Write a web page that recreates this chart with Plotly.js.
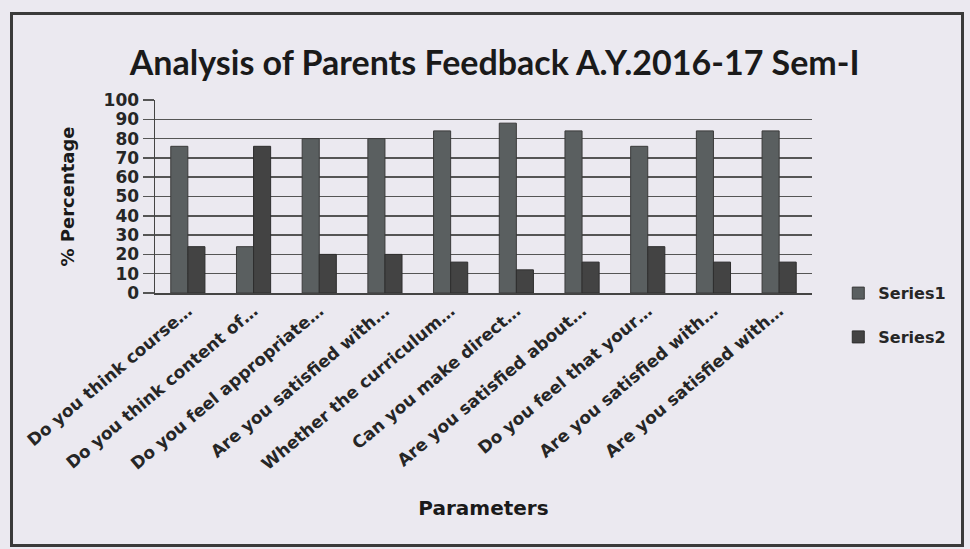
<!DOCTYPE html>
<html>
<head>
<meta charset="utf-8">
<script src="https://cdn.plot.ly/plotly-3.0.1.min.js"></script>
<style>
html,body{margin:0;padding:0;background:#ebe9f0;}
#wrap{position:relative;width:970px;height:549px;}
#chart{width:970px;height:549px;}
#frame{position:absolute;left:10px;top:12px;width:948px;height:529px;border:3px solid #3a3a3a;pointer-events:none;}
</style>
</head>
<body>
<div id="wrap"><div id="chart"></div><div id="frame"></div></div>
<script>
const categories = [
  "Do you think course…",
  "Do you think content of…",
  "Do you feel appropriate…",
  "Are you satisfied with…",
  "Whether the curriculum…",
  "Can you make direct…",
  "Are you satisfied about…",
  "Do you feel that your…",
  "Are you satisfied with…",
  "Are you satisfied with…"
];
const series1 = [76, 24, 80, 80, 84, 88, 84, 76, 84, 84];
const series2 = [24, 76, 20, 20, 16, 12, 16, 24, 16, 16];
const yTicks = [0,10,20,30,40,50,60,70,80,90,100];

const positions = categories.map((_, i) => i);
const titleFont = "Lato, Open Sans, sans-serif";
const font = "DejaVu Sans, Open Sans, sans-serif";

const traces = [
  {type:'bar', name:'Series1', x:positions, y:series1, marker:{color:'#5a5f60', line:{color:'#3a3a3a', width:1}}, legendgroup:'a'},
  {type:'bar', name:'Series2', x:positions, y:series2, marker:{color:'#434343', line:{color:'#2e2e2e', width:1}}, legendgroup:'b'}
];

const layout = {
  width:970, height:549,
  paper_bgcolor:'#ebe9f0', plot_bgcolor:'#ebe9f0',
  margin:{l:155, r:158, t:100, b:256},
  title:{text:'<b>Analysis of Parents Feedback A.Y.2016-17 Sem-I</b>', x:0.51, xanchor:'center', y:0.885, yanchor:'middle', font:{family:titleFont, size:34, color:'#1a1a1a'}},
  barmode:'group', bargap:0.48, bargroupgap:0,
  xaxis:{
    tickmode:'array', tickvals:positions, ticktext:categories, tickangle:-40,
    tickfont:{family:font, size:17, color:'#262626', weight:'bold'},
    showgrid:false, showline:true, linecolor:'#444', linewidth:1.5,
    range:[-0.5, categories.length-0.5], automargin:false,
    title:{text:'<b>Parameters</b>', font:{family:font, size:20, color:'#1a1a1a'}, standoff:28}
  },
  yaxis:{
    range:[0,100], tickmode:'array', tickvals:yTicks,
    tickfont:{family:font, size:17, color:'#262626', weight:'bold'},
    showgrid:true, gridcolor:'#555', gridwidth:1.5,
    showline:true, linecolor:'#444', linewidth:1.5,
    ticks:'outside', ticklen:11, tickcolor:'#555', tickwidth:1.5,
    automargin:false,
    title:{text:'<b>% Percentage</b>', font:{family:font, size:18, color:'#1a1a1a'}, standoff:24}
  },
  legend:{x:1.04, xanchor:'left', y:-0.115, yanchor:'middle', tracegroupgap:20, font:{family:font, size:16, color:'#262626', weight:'bold'}, bgcolor:'rgba(0,0,0,0)'},
  showlegend:true
};

Plotly.newPlot('chart', traces, layout, {displayModeBar:false, staticPlot:true});
</script>
</body>
</html>
